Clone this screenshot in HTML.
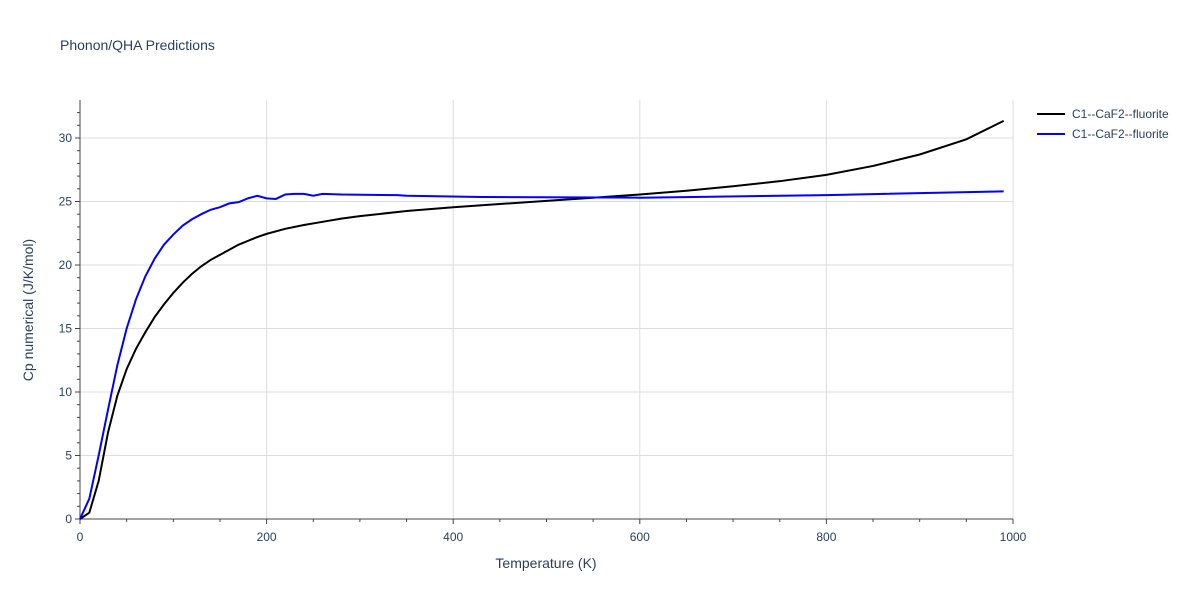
<!DOCTYPE html>
<html><head><meta charset="utf-8"><style>
body{margin:0;background:#fff;font-family:"Liberation Sans",sans-serif}
svg text{font-family:"Liberation Sans",sans-serif;fill:#2a3f5f}
</style></head><body>
<svg id="chart" width="1200" height="600">
<text x="60" y="50" font-size="14">Phonon/QHA Predictions</text>
<g id="grid"></g><g id="axes"></g><g id="series"></g>
<text x="546" y="568" font-size="14" text-anchor="middle">Temperature (K)</text>
<text transform="translate(33,310) rotate(-90)" font-size="14" text-anchor="middle">Cp numerical (J/K/mol)</text>
<g>
<g><line x1="1037" y1="114" x2="1065" y2="114" stroke="#000" stroke-width="2"/><text x="1072" y="118" font-size="12">C1--CaF2--fluorite</text></g>
<g><line x1="1037" y1="134" x2="1065" y2="134" stroke="#0000ff" stroke-width="2"/><text x="1072" y="138" font-size="12">C1--CaF2--fluorite</text></g>
</g>
</svg>
<script>
const blackT=[0,10,20,30,40,50,60,70,80,90,100,110,120,130,140,150,160,170,180,190,200,220,240,260,280,300,350,400,450,500,550,600,650,700,750,800,850,900,950,990];
const blackCp=[0,0.5,3,6.8,9.7,11.8,13.4,14.7,15.9,16.9,17.8,18.6,19.3,19.9,20.4,20.8,21.2,21.6,21.9,22.2,22.45,22.85,23.15,23.4,23.65,23.85,24.25,24.55,24.8,25.05,25.3,25.55,25.85,26.2,26.6,27.1,27.8,28.7,29.9,31.35];
const blueT=[0,10,20,30,40,50,60,70,80,90,100,110,120,130,140,150,160,170,180,190,200,210,220,230,240,250,260,280,340,350,430,600,800,990];
const blueCp=[0,1.6,5,8.6,12.1,15,17.3,19.1,20.5,21.6,22.4,23.1,23.6,24,24.35,24.55,24.85,24.95,25.25,25.45,25.25,25.2,25.55,25.6,25.6,25.45,25.6,25.55,25.5,25.45,25.35,25.3,25.5,25.8];
const xTicks=[0,200,400,600,800,1000];
const yTicks=[0,5,10,15,20,25,30];
const X0=80,X1=1013,Y0=519,Y1=100;
const xs=v=>X0+(X1-X0)*v/1000;
const ys=v=>Y0-v*(519-138)/30;
const NS='http://www.w3.org/2000/svg';
function mk(t,a,p){const e=document.createElementNS(NS,t);for(const k in a)e.setAttribute(k,a[k]);p.appendChild(e);return e;}
const grid=document.getElementById('grid'),axes=document.getElementById('axes'),ser=document.getElementById('series');
xTicks.forEach(v=>{
 if(v>0){const l=mk('line',{x1:xs(v),x2:xs(v),y1:Y1,y2:Y0,stroke:'#ddd'},grid);
 
 }
 const t=mk('text',{x:xs(v),y:Y0+22,'font-size':12,'text-anchor':'middle'},axes);t.textContent=v;
 
 
});
for(let v=0;v<=1000;v+=50){mk('line',{x1:xs(v),x2:xs(v),y1:Y0,y2:Y0+(v%200?3:5),stroke:'#444'},axes);}
yTicks.forEach(v=>{
 if(v>0){const l=mk('line',{x1:X0,x2:X1,y1:ys(v),y2:ys(v),stroke:'#ddd'},grid);
 
 }
 const t=mk('text',{x:X0-8,y:ys(v)+4,'font-size':12,'text-anchor':'end'},axes);t.textContent=v;
 
 
});
for(let v=0;v<=32;v++){mk('line',{x1:X0-(v%5?3:5),x2:X0,y1:ys(v),y2:ys(v),stroke:'#444'},axes);}
mk('line',{x1:X0,x2:X0,y1:Y1,y2:Y0,stroke:'#444'},axes);
mk('line',{x1:X0,x2:X1,y1:Y0,y2:Y0,stroke:'#444'},axes);
function line(T,C,col,name){const p=mk('polyline',{points:T.map((t,i)=>xs(t)+','+ys(C[i])).join(' '),fill:'none',stroke:col,'stroke-width':2},ser);
 
 }
line(blackT,blackCp,'#000','series-black-line');
line(blueT,blueCp,'#0000ff','series-blue-line');
</script>
</body></html>
